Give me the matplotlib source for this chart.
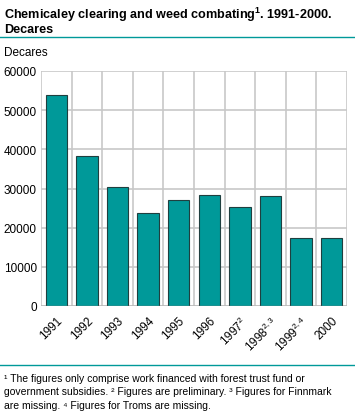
import matplotlib
matplotlib.use("Agg")
import matplotlib.pyplot as plt
from matplotlib.lines import Line2D

plt.rcParams["font.family"] = ["Liberation Sans", "DejaVu Sans"]
plt.rcParams["mathtext.fontset"] = "custom"
plt.rcParams["mathtext.rm"] = "Liberation Sans"
plt.rcParams["mathtext.bf"] = "Liberation Sans:bold"

categories = ["1991", "1992", "1993", "1994", "1995", "1996", "1997$^{2}$", "1998$^{2,3}$", "1999$^{2,4}$", "2000"]
values = [53800, 38200, 30500, 23700, 27000, 28300, 25200, 28200, 17300, 17300]
yticks = [0, 10000, 20000, 30000, 40000, 50000, 60000]
footnotes = [
    "\u00b9 The figures only comprise work financed with forest trust fund or",
    "government subsidies. \u00b2 Figures are preliminary. \u00b3 Figures for Finnmark",
    "are missing. \u2074 Figures for Troms are missing.",
]

teal = "#009999"
fig = plt.figure(figsize=(3.55, 4.14), dpi=100)
W, H = 355, 414
ax = fig.add_axes([41 / W, 1 - 307 / H, (347 - 41) / W, (307 - 72) / H])

x = list(range(len(categories)))
ax.bar(x, values, width=0.7, color=teal, edgecolor="#1f3f3f", linewidth=0.8, zorder=3)
ax.set_xlim(-0.5, len(categories) - 0.5)
ax.set_ylim(0, 60000)
ax.set_yticks(yticks)
ax.set_yticklabels([str(v) for v in yticks], fontsize=8.5)
ax.set_xticks([i - 0.5 for i in range(len(categories) + 1)], minor=False)
ax.set_xticklabels([])
ax.set_xticks(x, minor=True)
ax.set_xticklabels(categories, minor=True, rotation=45, ha="right", rotation_mode="anchor", fontsize=8.5)
ax.tick_params(axis="x", which="both", length=0, pad=6)
ax.tick_params(axis="y", length=0, pad=3)
ax.grid(True, which="major", color="#c8c8c8", linewidth=1.2, zorder=0)
for s in ax.spines.values():
    s.set_visible(False)
ax.axhline(0, color="#888888", linewidth=1.0, zorder=4)

fig.text(4 / W, 1 - 19 / H, "Chemicaley clearing and weed combating$^{\\mathbf{1}}$. 1991-2000.",
         fontsize=9.1, fontweight="bold", va="baseline", ha="left")
fig.text(4 / W, 1 - 33 / H, "Decares", fontsize=9.1, fontweight="bold", va="baseline", ha="left")
fig.add_artist(Line2D([0, 1], [1 - 38 / H, 1 - 38 / H], color=teal, linewidth=1.0))
fig.text(4 / W, 1 - 56 / H, "Decares", fontsize=8.5, va="baseline", ha="left")

fig.add_artist(Line2D([0, 1], [1 - 366 / H, 1 - 366 / H], color=teal, linewidth=1.0))
for i, line in enumerate(footnotes):
    fig.text(4 / W, 1 - (382 + 13.5 * i) / H, line, fontsize=7.5, va="baseline", ha="left")

fig.savefig("out.png", dpi=100)
